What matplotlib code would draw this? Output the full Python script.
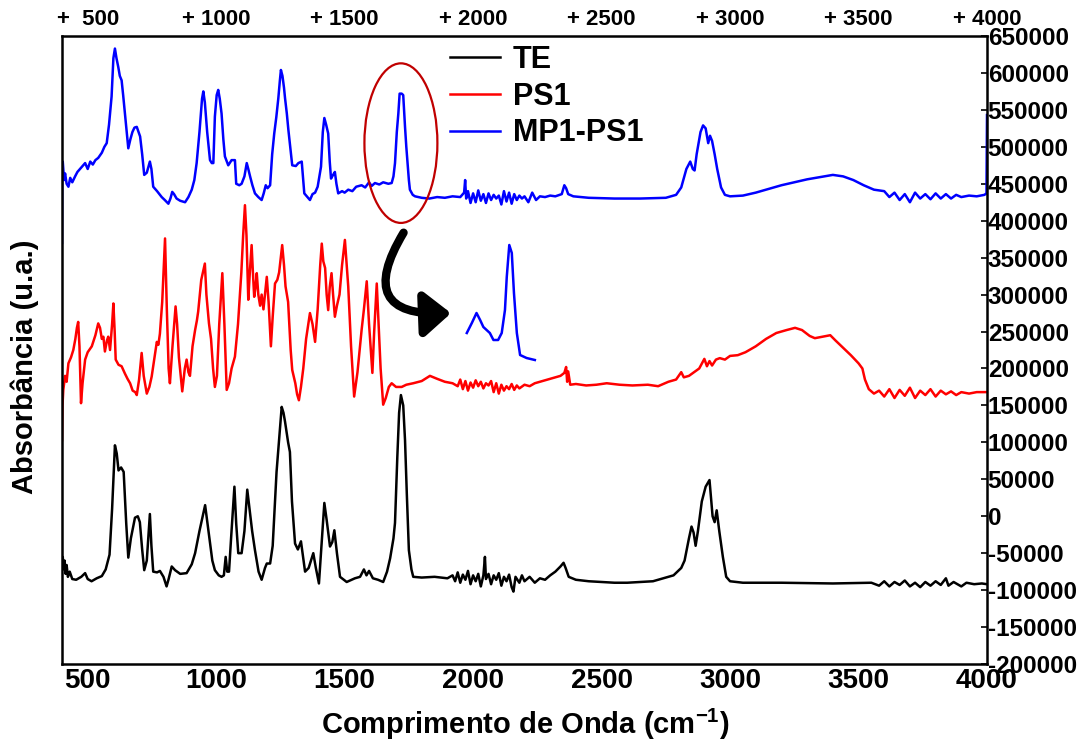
import numpy as np
import matplotlib
matplotlib.use("Agg")
import matplotlib.pyplot as plt
from matplotlib.patches import Ellipse, FancyArrowPatch
from matplotlib.lines import Line2D

plt.rcParams['axes.unicode_minus'] = False
plt.rcParams['font.family'] = ['Liberation Sans', 'DejaVu Sans']
plt.rcParams['font.weight'] = 'bold'
plt.rcParams['mathtext.fontset'] = 'custom'
plt.rcParams['mathtext.rm'] = 'Liberation Sans:bold'
plt.rcParams['mathtext.bf'] = 'Liberation Sans:bold'
plt.rcParams['mathtext.default'] = 'regular'

# spectra: (wavenumber cm-1, absorbance in thousands)
te_points = [
    (400, -62), (403, -55), (406, -72), (410, -60), (414, -78), (418, -66), (423, -82), (430, -75),
    (440, -85), (455, -86), (475, -82), (490, -77), (500, -85), (515, -88), (535, -84), (555, -81),
    (570, -72), (585, -52), (595, 10), (606, 96), (613, 85), (620, 62), (630, 66), (640, 60),
    (650, -10), (658, -56), (668, -30), (684, -2), (695, 0), (703, -8), (712, -45), (720, -73),
    (730, -60), (742, 3), (748, -40), (755, -75), (770, -76), (781, -74), (795, -82), (807, -95),
    (815, -85), (827, -68), (840, -73), (860, -78), (885, -77), (905, -65), (918, -50), (935, -20),
    (957, 15), (970, -20), (985, -60), (995, -73), (1010, -80), (1021, -82), (1030, -80), (1037, -55),
    (1043, -75), (1050, -75), (1058, -30), (1071, 40), (1078, -10), (1086, -50), (1099, -50),
    (1110, -20), (1121, 36), (1130, 10), (1140, -20), (1151, -46), (1165, -75), (1177, -86),
    (1190, -70), (1197, -64), (1210, -64), (1220, -40), (1235, 60), (1255, 148), (1262, 140),
    (1268, 128), (1280, 100), (1287, 87), (1295, 20), (1307, -37), (1318, -45), (1330, -34),
    (1338, -55), (1346, -75), (1360, -70), (1378, -50), (1388, -70), (1400, -91), (1410, -40),
    (1421, 18), (1430, -5), (1443, -41), (1452, -35), (1460, -19), (1470, -50), (1482, -82),
    (1508, -89), (1540, -84), (1560, -82), (1575, -72), (1585, -80), (1595, -74), (1610, -84),
    (1630, -86), (1650, -89), (1665, -75), (1677, -57), (1690, -30), (1696, -9), (1705, 80),
    (1712, 140), (1719, 164), (1728, 150), (1735, 103), (1742, 30), (1750, -46), (1760, -72),
    (1767, -82), (1800, -83), (1850, -82), (1900, -84), (1920, -80), (1930, -88), (1940, -76),
    (1950, -90), (1960, -79), (1970, -86), (1980, -74), (1990, -92), (2000, -80), (2010, -88),
    (2020, -78), (2030, -95), (2040, -80), (2046, -55), (2050, -85), (2060, -78), (2070, -92),
    (2080, -80), (2090, -86), (2100, -77), (2110, -94), (2120, -82), (2130, -88), (2140, -79),
    (2150, -96), (2157, -102), (2165, -82), (2180, -90), (2190, -80), (2200, -88), (2220, -82),
    (2240, -90), (2260, -84), (2280, -86), (2300, -80), (2320, -75), (2340, -68), (2352, -63),
    (2360, -70), (2372, -82), (2400, -86), (2450, -88), (2500, -89), (2550, -90), (2600, -90),
    (2650, -89), (2700, -88), (2740, -84), (2780, -80), (2810, -70), (2823, -60), (2840, -30),
    (2850, -14), (2858, -22), (2866, -40), (2875, -20), (2890, 20), (2905, 40), (2920, 49),
    (2932, 0), (2940, -8), (2948, 8), (2958, -20), (2972, -55), (2985, -82), (3000, -88),
    (3050, -90), (3200, -90), (3400, -91), (3550, -90), (3580, -94), (3600, -88), (3620, -95),
    (3640, -89), (3660, -93), (3680, -87), (3700, -95), (3720, -90), (3740, -96), (3760, -89),
    (3780, -94), (3800, -88), (3820, -93), (3840, -84), (3850, -94), (3870, -89), (3900, -95),
    (3920, -90), (3950, -92), (3980, -91), (4000, -92),
]

ps1_points = [
    (400, 103), (402, 150), (405, 171), (412, 190), (418, 182), (425, 207), (435, 215), (444, 225),
    (452, 240), (458, 255), (463, 263), (468, 230), (474, 153), (480, 180), (490, 212), (500, 222),
    (516, 230), (530, 245), (541, 261), (548, 255), (555, 240), (561, 243), (567, 223), (575, 238),
    (580, 243), (587, 225), (595, 260), (600, 288), (605, 250), (609, 212), (620, 205), (632, 203),
    (645, 193), (655, 186), (665, 180), (675, 170), (685, 168), (691, 164), (700, 185), (710, 221),
    (718, 190), (730, 166), (740, 175), (749, 189), (760, 215), (769, 236), (775, 232), (781, 247),
    (790, 290), (801, 376), (808, 280), (815, 200), (820, 180), (830, 230), (842, 284), (848, 260),
    (855, 215), (862, 190), (868, 169), (878, 200), (885, 212), (892, 195), (898, 190), (908, 230),
    (918, 252), (925, 265), (930, 277), (942, 320), (956, 342), (962, 300), (972, 261), (980, 240),
    (988, 200), (995, 175), (1003, 190), (1012, 260), (1024, 329), (1032, 260), (1041, 171),
    (1050, 180), (1060, 200), (1073, 216), (1085, 260), (1098, 330), (1105, 380), (1112, 421),
    (1118, 380), (1125, 293), (1131, 330), (1138, 367), (1143, 330), (1148, 297), (1153, 310),
    (1158, 329), (1164, 300), (1171, 285), (1177, 300), (1184, 280), (1190, 300), (1197, 324),
    (1204, 290), (1213, 230), (1220, 270), (1229, 315), (1238, 320), (1245, 330), (1257, 367),
    (1264, 340), (1270, 311), (1280, 290), (1290, 225), (1296, 198), (1308, 180), (1315, 165),
    (1322, 157), (1330, 175), (1339, 200), (1350, 240), (1365, 275), (1375, 260), (1385, 236),
    (1395, 280), (1405, 340), (1411, 369), (1417, 345), (1424, 336), (1430, 300), (1436, 279),
    (1442, 310), (1449, 329), (1455, 300), (1462, 270), (1470, 285), (1480, 300), (1490, 340),
    (1501, 374), (1508, 340), (1514, 311), (1525, 230), (1537, 162), (1550, 195), (1566, 252),
    (1575, 280), (1586, 318), (1595, 260), (1608, 194), (1615, 250), (1625, 315), (1632, 260),
    (1640, 200), (1650, 151), (1660, 160), (1672, 175), (1683, 180), (1700, 175), (1722, 175),
    (1740, 178), (1767, 180), (1800, 183), (1832, 190), (1860, 186), (1890, 182), (1920, 180),
    (1940, 176), (1950, 185), (1960, 172), (1970, 183), (1980, 170), (1990, 181), (2000, 174),
    (2010, 184), (2020, 176), (2030, 182), (2040, 173), (2050, 180), (2060, 177), (2070, 183),
    (2080, 168), (2090, 180), (2100, 166), (2110, 178), (2120, 170), (2130, 176), (2140, 172),
    (2150, 179), (2160, 171), (2170, 177), (2180, 173), (2200, 178), (2220, 176), (2240, 180),
    (2260, 182), (2280, 184), (2300, 186), (2320, 188), (2340, 190), (2355, 194), (2362, 202),
    (2366, 182), (2370, 196), (2378, 178), (2400, 179), (2440, 177), (2480, 178), (2520, 180),
    (2570, 178), (2620, 177), (2680, 178), (2720, 176), (2760, 182), (2790, 185), (2810, 195),
    (2820, 188), (2840, 190), (2860, 195), (2880, 200), (2900, 213), (2910, 203), (2920, 210),
    (2930, 204), (2945, 212), (2960, 214), (2980, 212), (3000, 217), (3030, 218), (3060, 222),
    (3100, 230), (3140, 240), (3180, 248), (3220, 252), (3253, 255), (3280, 252), (3310, 244),
    (3330, 241), (3360, 243), (3390, 245), (3410, 238), (3440, 228), (3470, 218), (3500, 207),
    (3515, 200), (3525, 185), (3540, 172), (3560, 166), (3580, 170), (3600, 162), (3620, 172),
    (3640, 160), (3660, 171), (3680, 163), (3700, 174), (3720, 160), (3740, 170), (3760, 164),
    (3780, 172), (3800, 162), (3820, 170), (3840, 165), (3860, 169), (3880, 164), (3900, 168),
    (3930, 166), (3960, 168), (4000, 168),
]

mp1_points = [
    (400, 370), (401, 470), (403, 480), (408, 455), (412, 464), (418, 450), (425, 446), (432, 458),
    (440, 452), (451, 460), (460, 466), (470, 470), (480, 474), (490, 478), (500, 470), (510, 480),
    (520, 476), (530, 482), (541, 485), (555, 492), (565, 500), (574, 505), (583, 530), (593, 568),
    (600, 620), (606, 633), (612, 620), (619, 608), (625, 596), (632, 590), (638, 570), (645, 545),
    (652, 520), (658, 498), (666, 510), (674, 520), (682, 526), (691, 527), (698, 520), (704, 514),
    (712, 490), (720, 462), (730, 465), (742, 480), (748, 470), (755, 446), (770, 440), (788, 432),
    (800, 428), (814, 423), (822, 430), (829, 439), (836, 436), (846, 430), (860, 427), (879, 425),
    (892, 432), (905, 442), (915, 455), (924, 478), (935, 520), (945, 565), (950, 575), (956, 560),
    (965, 520), (976, 482), (983, 478), (989, 478), (995, 541), (1002, 570), (1008, 577),
    (1014, 565), (1021, 545), (1028, 510), (1034, 487), (1047, 475), (1060, 482), (1073, 482),
    (1078, 450), (1090, 448), (1099, 450), (1110, 460), (1119, 478), (1125, 470), (1132, 460),
    (1141, 448), (1151, 437), (1164, 432), (1177, 428), (1185, 437), (1193, 448), (1200, 444),
    (1210, 448), (1218, 490), (1226, 518), (1234, 540), (1242, 566), (1248, 590), (1252, 604),
    (1258, 596), (1264, 580), (1268, 566), (1275, 545), (1281, 523), (1288, 500), (1296, 475),
    (1310, 474), (1320, 478), (1333, 480), (1343, 437), (1355, 432), (1365, 428), (1375, 436),
    (1385, 438), (1395, 446), (1408, 473), (1415, 520), (1421, 539), (1428, 530), (1436, 518),
    (1442, 480), (1447, 457), (1455, 462), (1462, 466), (1468, 450), (1475, 437), (1490, 440),
    (1500, 438), (1514, 442), (1530, 440), (1545, 446), (1566, 448), (1580, 445), (1595, 452),
    (1605, 447), (1618, 451), (1635, 449), (1650, 452), (1670, 450), (1683, 451), (1690, 460),
    (1696, 478), (1703, 520), (1709, 545), (1714, 572), (1722, 572), (1728, 570), (1735, 527),
    (1740, 500), (1745, 478), (1750, 455), (1754, 442), (1765, 435), (1774, 433), (1800, 431),
    (1830, 430), (1860, 432), (1890, 431), (1920, 433), (1950, 432), (1965, 438), (1969, 455),
    (1973, 430), (1980, 440), (1990, 424), (2000, 437), (2010, 425), (2020, 441), (2030, 427),
    (2040, 436), (2050, 424), (2060, 437), (2070, 428), (2080, 435), (2090, 430), (2100, 434),
    (2110, 422), (2120, 440), (2130, 426), (2140, 438), (2150, 423), (2160, 436), (2170, 428),
    (2180, 434), (2190, 430), (2200, 433), (2215, 425), (2230, 438), (2245, 428), (2260, 433),
    (2280, 432), (2300, 434), (2320, 433), (2345, 436), (2355, 448), (2362, 444), (2370, 436),
    (2390, 433), (2450, 431), (2550, 430), (2650, 430), (2750, 431), (2790, 435), (2810, 445),
    (2830, 470), (2845, 480), (2855, 470), (2862, 468), (2870, 490), (2885, 520), (2895, 529),
    (2905, 525), (2915, 505), (2922, 515), (2930, 508), (2940, 490), (2950, 470), (2965, 445),
    (2980, 435), (3000, 433), (3050, 434), (3100, 438), (3150, 443), (3200, 448), (3250, 452),
    (3300, 456), (3350, 459), (3400, 462), (3440, 460), (3480, 455), (3520, 448), (3560, 442),
    (3600, 440), (3620, 432), (3640, 438), (3660, 428), (3680, 436), (3700, 425), (3720, 438),
    (3740, 430), (3760, 436), (3780, 429), (3800, 437), (3820, 430), (3840, 436), (3860, 430),
    (3880, 435), (3900, 432), (3930, 434), (3960, 433), (3990, 435), (3998, 437), (4000, 543),
]

# zoomed carbonyl region shown in the inset (wavenumber, relative intensity)
inset_points = [
    (1605, 32), (1619, 42), (1632, 52), (1642, 45), (1651, 38), (1660, 35), (1669, 32), (1679, 25),
    (1692, 25), (1702, 32), (1711, 55), (1716, 88), (1723, 120), (1730, 112), (1736, 72),
    (1744, 32), (1753, 10), (1771, 7), (1794, 5),
]

x_ticks = [500, 1000, 1500, 2000, 2500, 3000, 3500, 4000]
top_labels = ['+  500', '+ 1000', '+ 1500', '+ 2000', '+ 2500', '+ 3000', '+ 3500', '+ 4000']
y_ticks = list(range(-200000, 650001, 50000))

te = np.array(te_points, dtype=float)
ps1 = np.array(ps1_points, dtype=float)
mp1 = np.array(mp1_points, dtype=float)
ins = np.array(inset_points, dtype=float)

fig = plt.figure(figsize=(10.78, 7.47), dpi=100, facecolor='white')
ax = fig.add_axes([62 / 1078, 1 - 664 / 747, 925 / 1078, 628 / 747])

ax.plot(te[:, 0], te[:, 1] * 1000, color='black', lw=1.8, label='TE')
ax.plot(ps1[:, 0], ps1[:, 1] * 1000, color='#ff0000', lw=1.8, label='PS1')
ax.plot(mp1[:, 0], mp1[:, 1] * 1000, color='#0000ff', lw=1.8, label='MP1-PS1')

ax.set_xlim(400, 4000)
ax.set_ylim(-200000, 650000)
for s in ax.spines.values():
    s.set_linewidth(1.8)

ax.set_xticks(x_ticks)
ax.set_xticklabels([str(t) for t in x_ticks], fontsize=20, fontweight='bold')
ax.tick_params(axis='x', length=0, pad=3)

ax.yaxis.tick_right()
ax.set_yticks(y_ticks)
ax.set_yticklabels([str(t) for t in y_ticks], fontsize=17.5, fontweight='bold')
ax.tick_params(axis='y', direction='in', length=4, width=1.2, pad=0.5)

top = ax.secondary_xaxis('top')
top.set_xticks(x_ticks)
top.set_xticklabels(top_labels, fontsize=16, fontweight='bold')
top.tick_params(length=0, pad=4)
top.spines['top'].set_visible(False)

fig.text(525 / 1078, 1 - 724 / 747, 'Comprimento de Onda (cm$^{-1}$)',
         fontsize=21, fontweight='bold', ha='center', va='center')
fig.text(25 / 1078, 1 - 367 / 747, 'Absorbância (u.a.)', fontsize=21, fontweight='bold',
         rotation=90, ha='center', va='center')

handles = [Line2D([], [], color=c, lw=1.8) for c in ['black', '#ff0000', '#0000ff']]
ax.legend(handles, ['TE', 'PS1', 'MP1-PS1'], loc='upper left', frameon=False,
          bbox_to_anchor=(450 / 1078, 1 - 45 / 747), bbox_transform=fig.transFigure,
          borderpad=0, borderaxespad=0, handlelength=1.65, handletextpad=0.4,
          labelspacing=0.22, prop={'size': 22, 'weight': 'bold'})

ell = Ellipse((1719, 505000), width=284, height=216000, fill=False,
              edgecolor='#c00000', lw=1.6, zorder=5)
ax.add_patch(ell)

arrow = FancyArrowPatch((1735, 387000), (1925, 275000), connectionstyle='arc3,rad=0.95',
                        arrowstyle='-|>,head_length=0.9,head_width=0.75', mutation_scale=18,
                        color='black', lw=6, zorder=6)
ax.add_patch(arrow)

inax = fig.add_axes([465 / 1078, 1 - 365 / 747, 72 / 1078, 130 / 747], facecolor='white')
inax.plot(ins[:, 0], ins[:, 1], color='#0000ff', lw=1.8)
inax.set_xlim(1600, 1800)
inax.set_ylim(0, 130)
inax.set_xticks([])
inax.set_yticks([])
for s in inax.spines.values():
    s.set_visible(False)

fig.savefig('out.png', dpi=100, facecolor='white')
